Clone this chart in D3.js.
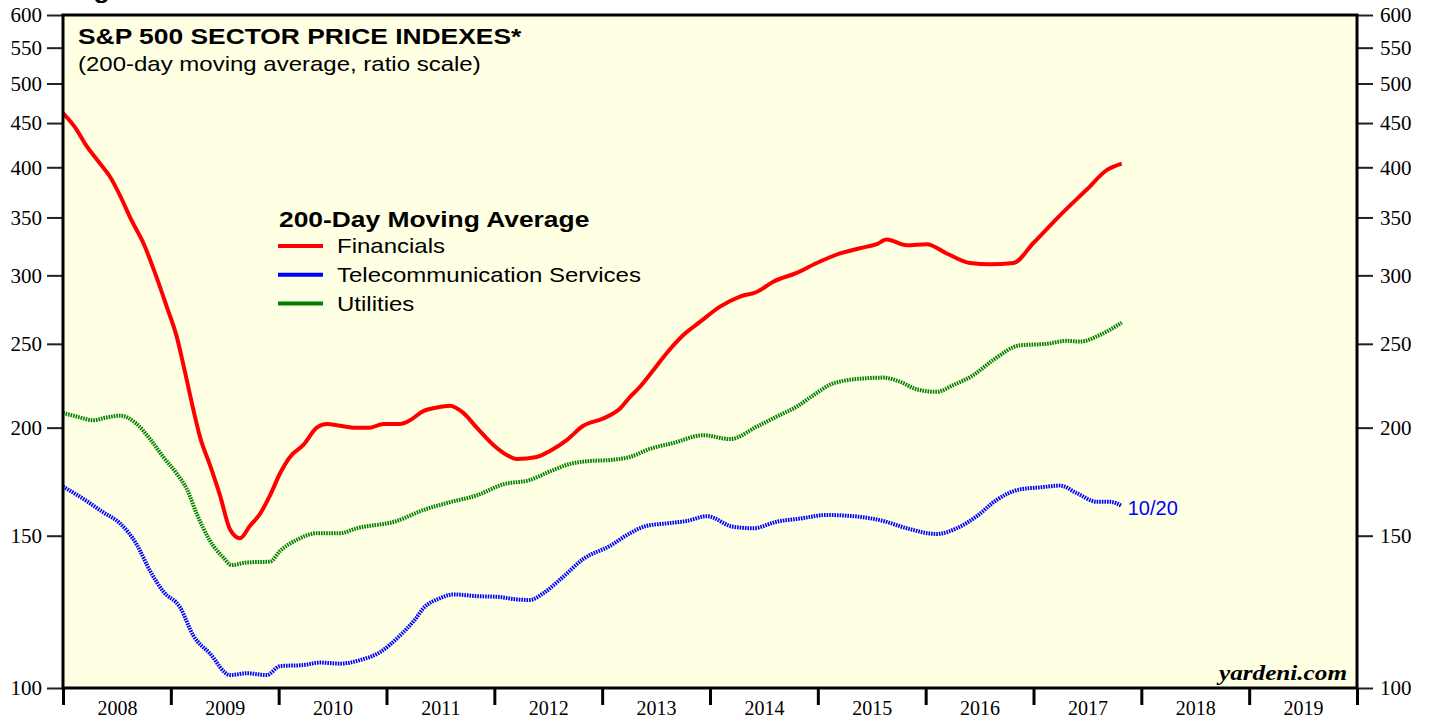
<!DOCTYPE html>
<html>
<head>
<meta charset="utf-8">
<script src="https://cdn.jsdelivr.net/npm/d3@7/dist/d3.min.js"></script>
<style>
  body { margin: 0; background: #fff; }
  svg { display: block; }
</style>
</head>
<body>
<svg width="1429" height="721"></svg>
<script>
// data (decimal year, index value)
const finDates = [2008.0, 2008.127, 2008.204, 2008.343, 2008.436, 2008.529, 2008.637, 2008.745, 2008.853, 2008.962,
  2009.054, 2009.131, 2009.208, 2009.271, 2009.363, 2009.456, 2009.549, 2009.641, 2009.734, 2009.827, 2009.92,
  2010.012, 2010.105, 2010.229, 2010.353, 2010.446, 2010.569, 2010.692, 2010.847, 2010.97, 2011.125, 2011.218,
  2011.341, 2011.466, 2011.589, 2011.712, 2011.837, 2011.991, 2012.115, 2012.208, 2012.393, 2012.516, 2012.671,
  2012.825, 2013.011, 2013.166, 2013.258, 2013.351, 2013.474, 2013.599, 2013.753, 2013.907, 2014.093, 2014.278,
  2014.433, 2014.587, 2014.804, 2014.99, 2015.206, 2015.391, 2015.546, 2015.639, 2015.824, 2016.01, 2016.195,
  2016.411, 2016.597, 2016.813, 2016.999, 2017.246, 2017.494, 2017.679, 2017.818];
const finValues = [462, 442, 426, 404, 390, 371, 347, 327, 302, 276,
  255, 232, 210, 195, 181, 167, 152.5, 149, 154, 159, 167,
  177, 185, 191, 200, 202, 201, 200, 200, 202, 202, 204,
  209, 211, 212, 208, 200, 191, 186, 184, 185, 188, 193.5,
  201, 205, 210.5, 217, 223, 233, 244, 256, 265, 276, 283.5,
  287, 295, 302, 310, 318, 322.5, 326, 330, 325, 326, 318,
  310, 309, 310, 327, 352, 377, 397, 404];

const telDates = [2008.0, 2008.22, 2008.374, 2008.529, 2008.683, 2008.807, 2008.93, 2009.085, 2009.208, 2009.363,
  2009.549, 2009.704, 2009.889, 2010.012, 2010.229, 2010.383, 2010.569, 2010.754, 2010.94, 2011.125, 2011.264,
  2011.341, 2011.496, 2011.62, 2011.837, 2012.022, 2012.208, 2012.331, 2012.454, 2012.64, 2012.825, 2013.073,
  2013.258, 2013.413, 2013.599, 2013.784, 2013.969, 2014.216, 2014.402, 2014.619, 2014.835, 2015.082, 2015.329,
  2015.607, 2015.824, 2016.102, 2016.288, 2016.474, 2016.659, 2016.875, 2017.061, 2017.246, 2017.401, 2017.587,
  2017.71, 2017.818];
const telValues = [171, 164.5, 159.6, 155, 146.6, 136.6, 129.3, 124, 115, 109.6,
  103.5, 104, 103.5, 106, 106.3, 107, 106.7, 107.7, 110, 115, 120,
  123.6, 127, 128.3, 127.7, 127.5, 126.6, 126.4, 128.7, 134.5, 141, 146,
  151, 154, 155, 156, 158, 153.6, 153, 155.7, 157, 158.5, 158,
  156, 153, 150.7, 153, 158, 165, 169.7, 170.6, 171.4, 168, 164.2,
  164.2, 162.3];

const utlDates = [2008.0, 2008.127, 2008.281, 2008.405, 2008.529, 2008.683, 2008.807, 2008.93, 2009.054, 2009.147,
  2009.24, 2009.363, 2009.487, 2009.564, 2009.704, 2009.92, 2010.012, 2010.198, 2010.353, 2010.569, 2010.724,
  2011.095, 2011.341, 2011.589, 2011.837, 2012.083, 2012.331, 2012.516, 2012.702, 2012.887, 2013.073, 2013.258,
  2013.443, 2013.66, 2013.938, 2014.186, 2014.433, 2014.619, 2014.804, 2014.958, 2015.144, 2015.422, 2015.607,
  2015.762, 2015.917, 2016.102, 2016.256, 2016.442, 2016.627, 2016.875, 2017.122, 2017.308, 2017.431, 2017.617,
  2017.818];
const utlValues = [208, 206, 204, 205.5, 206.5, 202, 194, 185, 177, 170,
  159, 148, 141.5, 138.7, 139.7, 140, 144, 149, 151, 151, 153,
  156, 160.6, 164, 167, 172, 174, 178, 181.6, 183, 183.5, 185,
  189, 192, 196, 194, 200.5, 206, 211.5, 218, 225, 228, 228.5,
  226, 221.5, 220, 224, 230, 239.5, 249, 250, 252, 251.5, 256,
  264.5];

const yTicks = [100, 150, 200, 250, 300, 350, 400, 450, 500, 550, 600];
const years = d3.range(2008, 2020);
const seriesNames = ["Financials", "Telecommunication Services", "Utilities"];
const seriesColors = ["#ff0000", "#0000ff", "#008000"];

let svg = d3.select("svg");
let pLeft = 63, pRight = 1357, pTop = 15, pBottom = 688;
let stretch = 1.2; // the source picture is wider than it is tall

let x = d3.scaleLinear().domain([2008, 2020]).range([pLeft, pRight]);
let y = d3.scaleLog().domain([100, 600]).range([pBottom, pTop]);

let sans = "Liberation Sans, Arial, Helvetica, sans-serif";
let serif = "Liberation Serif, Times New Roman, serif";

// stretched text helper
function label(parent, tx, ty, str) {
  return parent.append("text")
    .attr("transform", "translate(" + tx + "," + ty + ") scale(" + stretch + ",1)")
    .text(str);
}

// cut-off header from the page above
label(svg, 70, -2, "Fig")
  .attr("font-family", sans).attr("font-weight", "bold").attr("font-size", 22);

// plot background
svg.append("rect")
  .attr("x", pLeft).attr("y", pTop)
  .attr("width", pRight - pLeft).attr("height", pBottom - pTop)
  .attr("fill", "#ffffe3");

svg.append("clipPath").attr("id", "plotclip")
  .append("rect")
  .attr("x", pLeft).attr("y", pTop)
  .attr("width", pRight - pLeft).attr("height", pBottom - pTop);

// axes
function styleAxis(g) {
  g.select(".domain").remove();
  g.selectAll(".tick line").attr("stroke", "#222").attr("stroke-width", 2);
  g.selectAll(".tick text")
    .attr("font-family", serif)
    .attr("font-size", 21).attr("fill", "#000");
}

svg.append("g")
  .attr("transform", "translate(" + pLeft + ",0)")
  .call(d3.axisLeft(y).tickValues(yTicks).tickFormat(d3.format("d")).tickSize(16).tickPadding(5))
  .call(styleAxis);

svg.append("g")
  .attr("transform", "translate(" + pRight + ",0)")
  .call(d3.axisRight(y).tickValues(yTicks).tickFormat(d3.format("d")).tickSize(16).tickPadding(7))
  .call(styleAxis);

svg.append("g")
  .attr("transform", "translate(0," + pBottom + ")")
  .call(d3.axisBottom(x).tickValues(d3.range(2008, 2021)).tickFormat("").tickSize(17))
  .call(styleAxis)
  .call(g => g.selectAll(".tick line").attr("stroke", "#000").attr("stroke-width", 3));

svg.append("g")
  .attr("transform", "translate(0," + pBottom + ")")
  .call(d3.axisBottom(x).tickValues(years.map(d => d + 0.5)).tickFormat(d => Math.floor(d)).tickSize(0).tickPadding(13))
  .call(styleAxis)
  .call(g => g.selectAll(".tick text").attr("font-size", 20));

// lines
let line = d3.line()
  .x(d => x(d[0]))
  .y(d => y(d[1]))
  .curve(d3.curveMonotoneX);

let lines = svg.append("g").attr("clip-path", "url(#plotclip)");

lines.append("path")
  .datum(utlDates.map((d, i) => [d, utlValues[i]]))
  .attr("fill", "none").attr("stroke", seriesColors[2])
  .attr("stroke-width", 4).attr("stroke-dasharray", "1.6,1")
  .attr("d", line);

lines.append("path")
  .datum(telDates.map((d, i) => [d, telValues[i]]))
  .attr("fill", "none").attr("stroke", seriesColors[1])
  .attr("stroke-width", 4).attr("stroke-dasharray", "1.6,1")
  .attr("d", line);

lines.append("path")
  .datum(finDates.map((d, i) => [d, finValues[i]]))
  .attr("fill", "none").attr("stroke", seriesColors[0])
  .attr("stroke-width", 4).attr("stroke-linejoin", "round")
  .attr("d", line);

// frame
svg.append("rect")
  .attr("x", pLeft).attr("y", pTop)
  .attr("width", pRight - pLeft).attr("height", pBottom - pTop)
  .attr("fill", "none").attr("stroke", "#000").attr("stroke-width", 3);

// titles
label(svg, 78, 44, "S&P 500 SECTOR PRICE INDEXES*")
  .attr("font-family", sans).attr("font-weight", "bold").attr("font-size", 22);
label(svg, 78, 71, "(200-day moving average, ratio scale)")
  .attr("font-family", sans).attr("font-size", 20);

// legend
let legend = svg.append("g").attr("transform", "translate(278,0)");
label(legend, 1, 227, "200-Day Moving Average")
  .attr("font-family", sans).attr("font-weight", "bold").attr("font-size", 22);
seriesNames.forEach((name, i) => {
  let yy = 246 + i * 28.8;
  legend.append("line")
    .attr("x1", 0).attr("x2", 45).attr("y1", yy).attr("y2", yy)
    .attr("stroke", seriesColors[i]).attr("stroke-width", 4);
  label(legend, 59, yy + 7, name)
    .attr("font-family", sans).attr("font-size", 20);
});

// last date label
svg.append("text")
  .attr("x", x(telDates[telDates.length - 1]) + 6).attr("y", 515)
  .attr("font-family", sans).attr("font-size", 20).attr("fill", "#0000ff")
  .text("10/20");

label(svg, 1347, 680, "yardeni.com")
  .attr("text-anchor", "end")
  .attr("font-family", serif)
  .attr("font-style", "italic").attr("font-weight", "bold").attr("font-size", 21);
</script>
</body>
</html>
